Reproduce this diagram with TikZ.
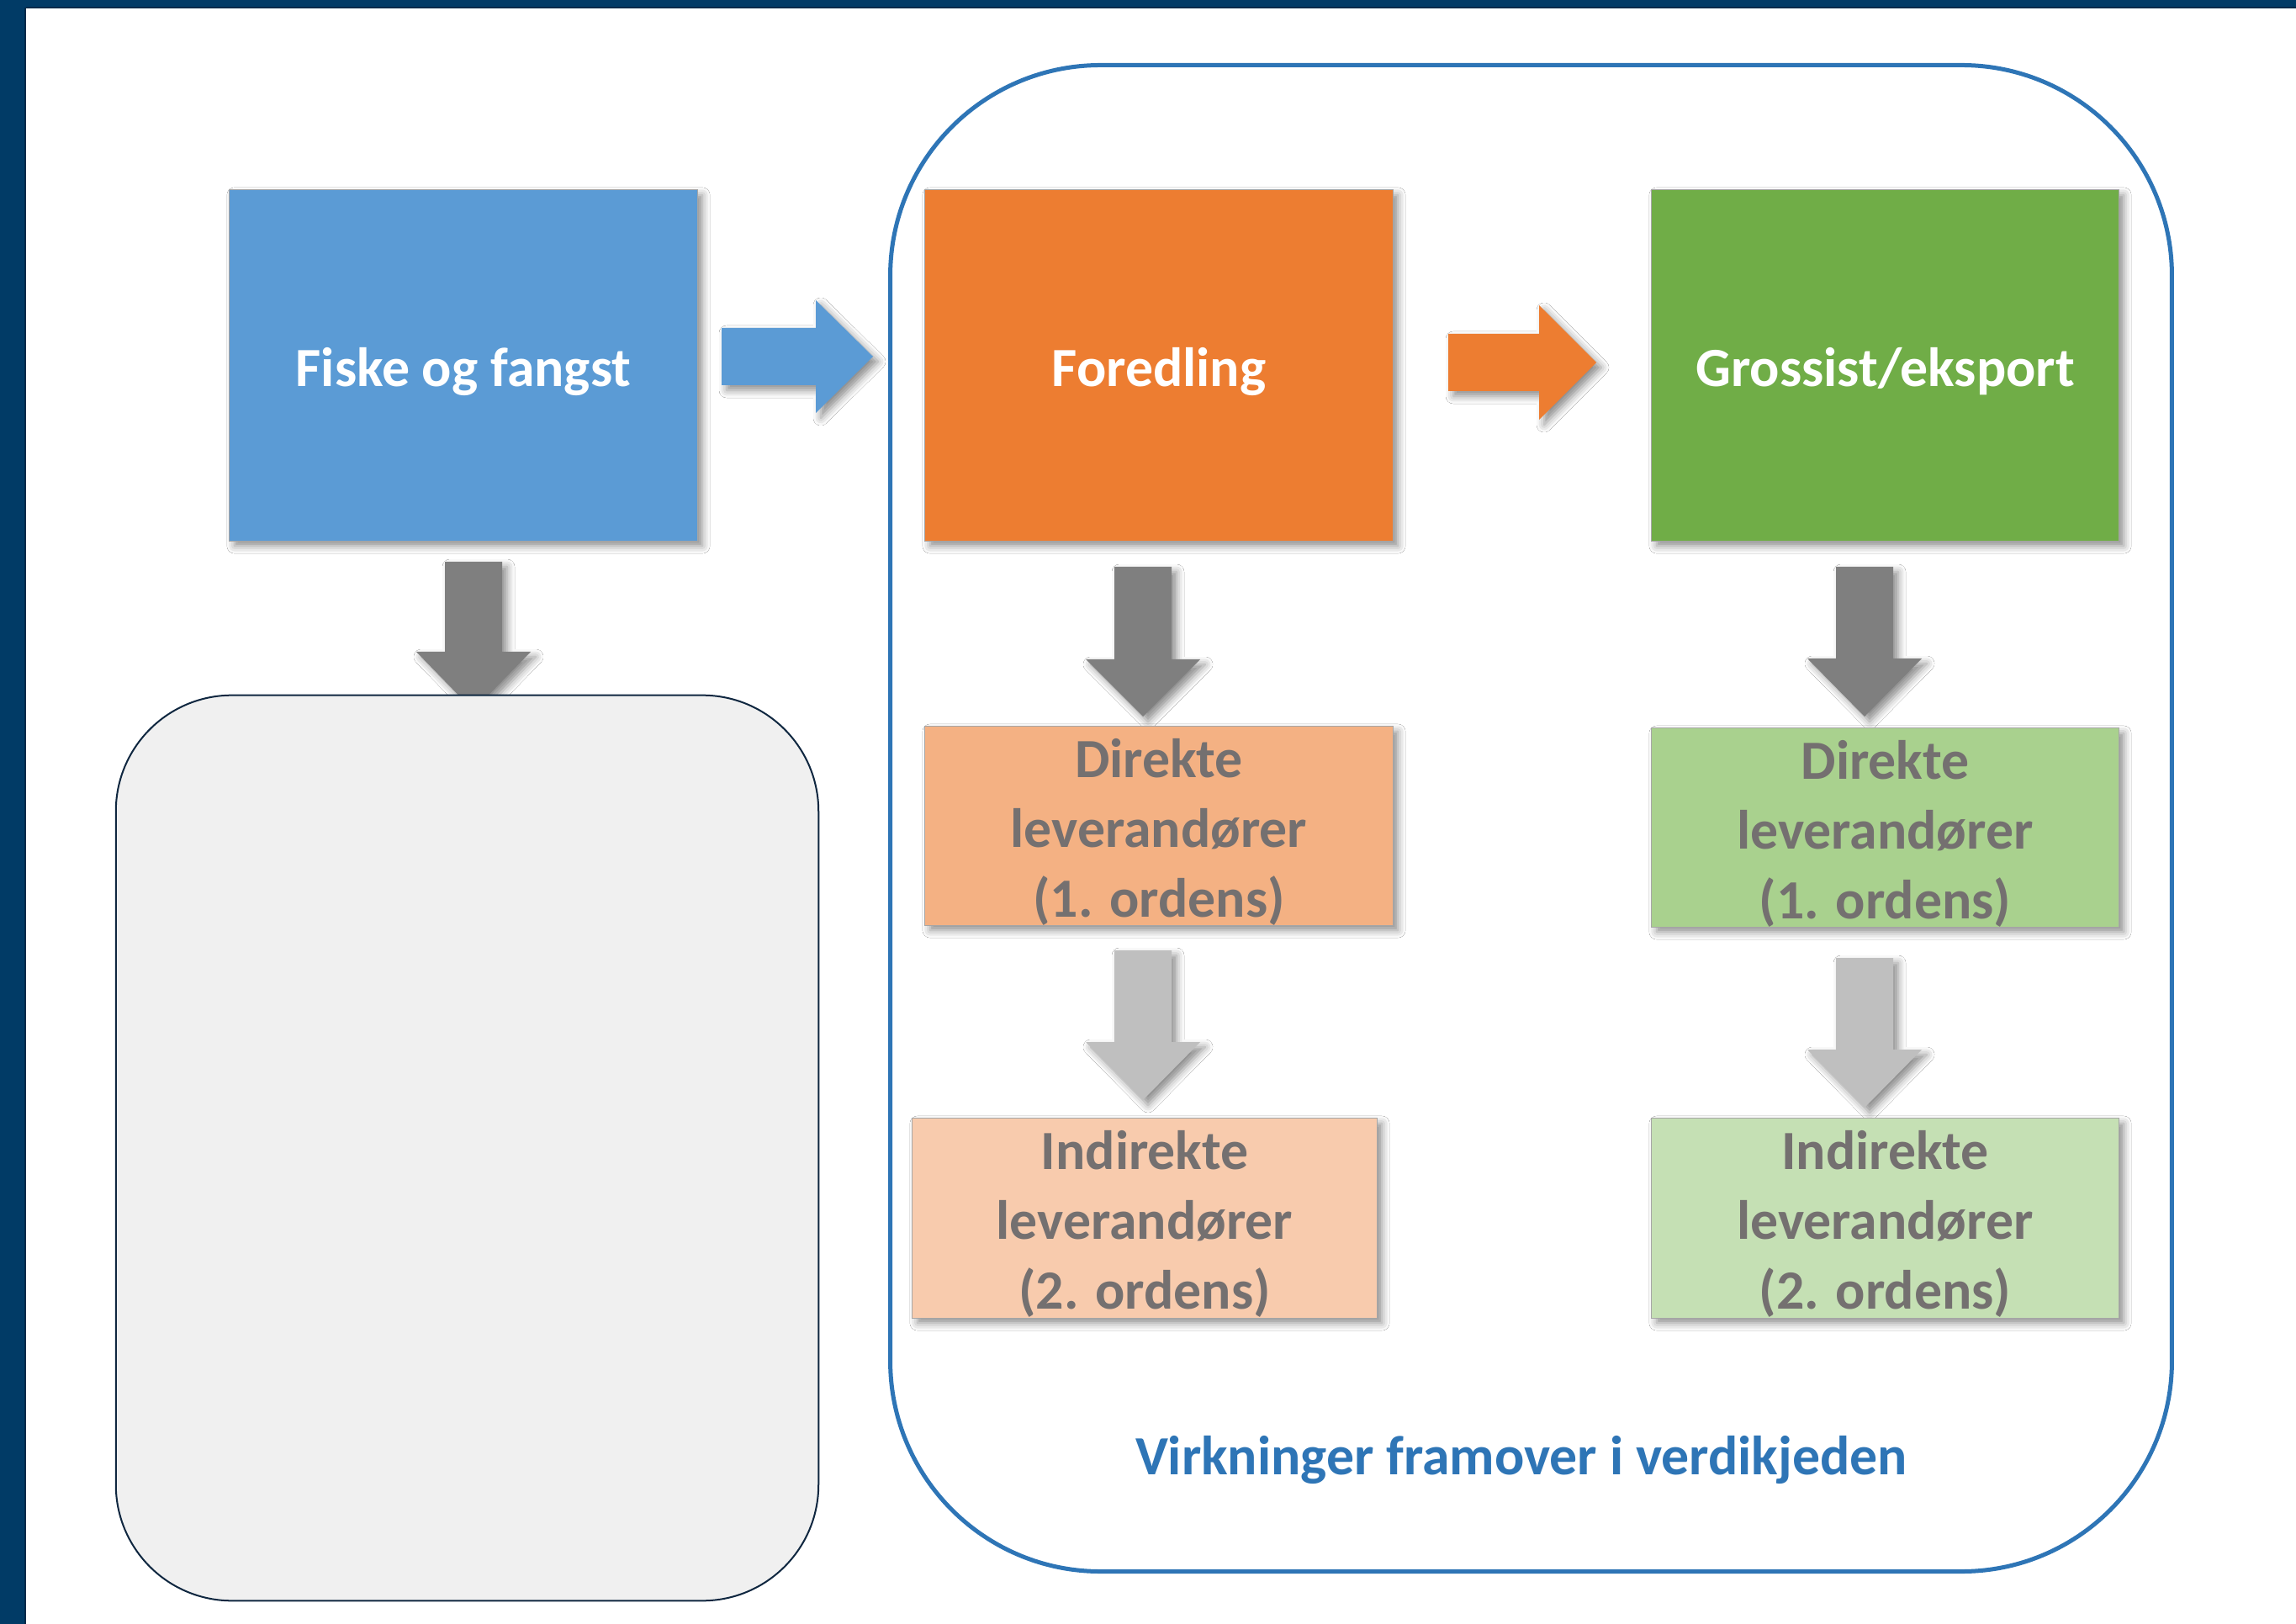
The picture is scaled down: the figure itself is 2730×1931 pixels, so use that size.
\documentclass[tikz,border=0pt]{standalone}
\usepackage{fontspec}
\setmainfont{Carlito}
\usetikzlibrary{shadows.blur}
\definecolor{frameblue}{HTML}{013B66}
\definecolor{frameedge}{HTML}{002A4A}
\definecolor{chainblue}{HTML}{2E75B6}
\definecolor{fiskeblue}{HTML}{5B9BD5}
\definecolor{foredorange}{HTML}{ED7D31}
\definecolor{grossgreen}{HTML}{70AD47}
\definecolor{orangeA}{HTML}{F4B183}
\definecolor{orangeB}{HTML}{F8CBAD}
\definecolor{greenA}{HTML}{A9D18E}
\definecolor{greenB}{HTML}{C5E0B4}
\definecolor{darkarrow}{HTML}{7F7F7F}
\definecolor{lightarrow}{HTML}{BFBFBF}
\definecolor{suptext}{HTML}{747070}
\definecolor{grayfill}{HTML}{F0F0F0}
\definecolor{grayedge}{HTML}{0F2740}
\definecolor{boxedge}{HTML}{A6A6A6}
\newcommand\blockdownarrow[5]{%
  \fill[#5, softshadow] ({#1-34},#2) -- ({#1+34},#2) -- ({#1+34},#3) -- ({#1+68},#3)
    -- (#1,#4) -- ({#1-68},#3) -- ({#1-34},#3) -- cycle;}
\begin{document}
\begin{tikzpicture}[x=0.01cm, y=-0.01cm,
  softshadow/.style={blur shadow={shadow xshift=0.06cm, shadow yshift=-0.06cm,
      shadow blur radius=0.09cm, shadow opacity=45}},
  topbox/.style={draw=boxedge, line width=0.3pt, minimum width=5.56cm, minimum height=4.17cm,
      inner sep=0pt, softshadow},
  toptext/.style={inner sep=0pt, text=white, font=\fontsize{18.7}{23.3}\selectfont\bfseries},
  subbox/.style={draw=boxedge, line width=0.3pt, minimum width=5.56cm, minimum height=2.36cm,
      inner sep=0pt, softshadow},
  subtext/.style={inner sep=0pt, align=center, text=suptext, font=\fontsize{18.7}{23.6}\selectfont\bfseries},
]
\useasboundingbox (0,0) rectangle (2730,1931);
\fill[white] (0,0) rectangle (2730,1931);
% frame
\fill[frameblue] (0,0) rectangle (31,1931);
\fill[frameblue] (0,0) rectangle (2730,10);
\draw[frameedge, line width=0.6pt] (31,9) -- (2730,9);
\draw[frameedge, line width=0.6pt] (30,9) -- (30,1931);

% container
\node[draw=chainblue, line width=0.05cm, rounded corners=2.5cm,
      minimum width=15.23cm, minimum height=17.9cm, inner sep=0pt] (chain) at (1820.5,973) {};

% arrows
\fill[fiskeblue, softshadow] (858,390) -- (970,390) -- (970,357) -- (1038,424)
   -- (970,491) -- (970,458) -- (858,458) -- cycle;
\fill[foredorange, softshadow] (1722,397) -- (1830,397) -- (1830,363) -- (1898,431)
   -- (1830,499) -- (1830,465) -- (1722,465) -- cycle;
\blockdownarrow{563}{668}{775}{845}{darkarrow}
\blockdownarrow{1359}{674}{784}{852}{darkarrow}
\blockdownarrow{1359}{1130}{1239}{1308}{lightarrow}
\blockdownarrow{2217}{674}{783}{852}{darkarrow}
\blockdownarrow{2217}{1139}{1248}{1317}{lightarrow}

% left grey box
\node[draw=grayedge, fill=grayfill, line width=0.02cm, rounded corners=1.38cm,
      minimum width=8.35cm, minimum height=10.76cm, inner sep=0pt] (impact) at (555.5,1365) {};

% top boxes
\node[topbox, fill=fiskeblue] (fiske) at (551,434.5) {};
\node[topbox, fill=foredorange] (foredling) at (1378,434.5) {};
\node[topbox, fill=grossgreen, minimum width=5.55cm] (grossist) at (2241.5,434.5) {};
\node[toptext] (fisket) at ([yshift=-0.07cm]fiske.center) {Fiske og fangst};
\node[toptext] (foredt) at ([yshift=-0.07cm]foredling.center) {Foredling};
\node[toptext] (grosst) at ([yshift=-0.07cm]grossist.center) {Grossist/eksport};

% supplier boxes
\node[subbox, fill=orangeA] (dirO) at (1378,982) {};
\node[subbox, fill=orangeB, minimum width=5.52cm, minimum height=2.37cm] (indO) at (1361,1448.5) {};
\node[subbox, fill=greenA, minimum width=5.55cm] (dirG) at (2241.5,984) {};
\node[subbox, fill=greenB, minimum width=5.55cm, minimum height=2.37cm] (indG) at (2241.5,1448.5) {};
\node[subtext] (dirOt) at ([yshift=-0.07cm]dirO.center) {Direkte\\leverandører\\(1. ordens)};
\node[subtext] (indOt) at ([yshift=-0.07cm]indO.center) {Indirekte\\leverandører\\(2. ordens)};
\node[subtext] (dirGt) at ([yshift=-0.07cm]dirG.center) {Direkte\\leverandører\\(1. ordens)};
\node[subtext] (indGt) at ([yshift=-0.07cm]indG.center) {Indirekte\\leverandører\\(2. ordens)};

% caption
\node[anchor=base, text=chainblue, font=\fontsize{18.7}{22}\selectfont\bfseries, inner sep=0pt]
  (caption) at (1809,1753) {Virkninger framover i verdikjeden};
\end{tikzpicture}
\end{document}
